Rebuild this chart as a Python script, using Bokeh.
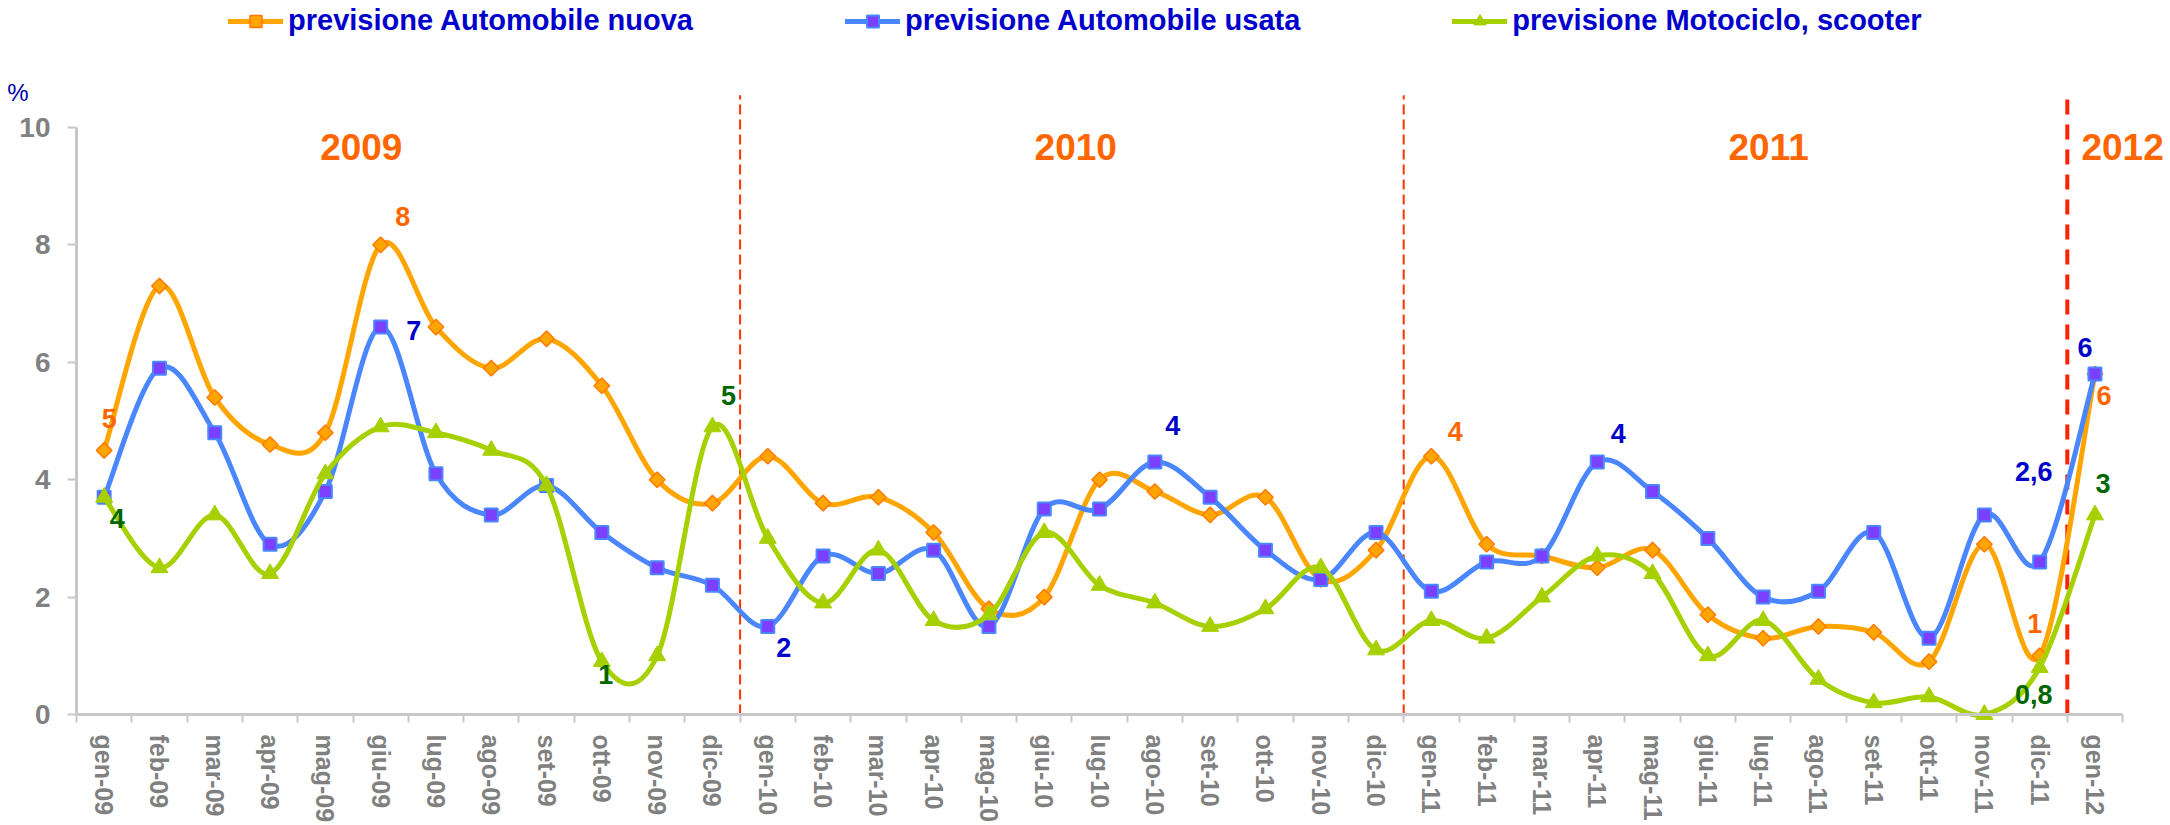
import math
from bokeh.plotting import figure
from bokeh.models import Range1d, FixedTicker, Label, Legend, LegendItem, ColumnDataSource, LinearAxis
from bokeh.core.properties import value
from bokeh.embed import file_html
from bokeh.resources import INLINE

# ---------------- data ----------------
months = ["gen-09", "feb-09", "mar-09", "apr-09", "mag-09", "giu-09", "lug-09", "ago-09", "set-09", "ott-09", "nov-09", "dic-09",
          "gen-10", "feb-10", "mar-10", "apr-10", "mag-10", "giu-10", "lug-10", "ago-10", "set-10", "ott-10", "nov-10", "dic-10",
          "gen-11", "feb-11", "mar-11", "apr-11", "mag-11", "giu-11", "lug-11", "ago-11", "set-11", "ott-11", "nov-11", "dic-11",
          "gen-12"]

auto_nuova = [4.5, 7.3, 5.4, 4.6, 4.8, 8.0, 6.6, 5.9, 6.4, 5.6, 4.0, 3.6,
              4.4, 3.6, 3.7, 3.1, 1.8, 2.0, 4.0, 3.8, 3.4, 3.7, 2.3, 2.8,
              4.4, 2.9, 2.7, 2.5, 2.8, 1.7, 1.3, 1.5, 1.4, 0.9, 2.9, 1.0,
              5.8]
auto_usata = [3.7, 5.9, 4.8, 2.9, 3.8, 6.6, 4.1, 3.4, 3.9, 3.1, 2.5, 2.2,
              1.5, 2.7, 2.4, 2.8, 1.5, 3.5, 3.5, 4.3, 3.7, 2.8, 2.3, 3.1,
              2.1, 2.6, 2.7, 4.3, 3.8, 3.0, 2.0, 2.1, 3.1, 1.3, 3.4, 2.6,
              5.8]
moto = [3.7, 2.5, 3.4, 2.4, 4.1, 4.9, 4.8, 4.5, 3.9, 0.9, 1.0, 4.9,
        3.0, 1.9, 2.8, 1.6, 1.7, 3.1, 2.2, 1.9, 1.5, 1.8, 2.5, 1.1,
        1.6, 1.3, 2.0, 2.7, 2.4, 1.0, 1.6, 0.6, 0.2, 0.3, 0.0, 0.8,
        3.4]

series_names = ["previsione Automobile nuova", "previsione Automobile usata", "previsione Motociclo, scooter"]
y_ticks = [0, 2, 4, 6, 8, 10]
years = ["2009", "2010", "2011", "2012"]
y_unit = "%"

# data labels (index into months, text)
nuova_lbl_idx = [0, 5, 24, 35, 36]
nuova_lbl_txt = ["5", "8", "4", "1", "6"]
usata_lbl_idx = [5, 12, 19, 27, 35, 36]
usata_lbl_txt = ["7", "2", "4", "4", "2,6", "6"]
moto_lbl_idx = [0, 9, 11, 35, 36]
moto_lbl_txt = ["4", "1", "5", "0,8", "3"]

# ---------------- styles / positions ----------------
nuova_lbl_off = [(5, -32), (22, -28), (24, -25), (-5, -32), (9, 21)]
usata_lbl_off = [(33, 3), (16, 21), (18, -37), (21, -29), (-6, -90), (-10, -27)]
moto_lbl_off = [(13, 21), (4, 13), (16, -31), (-6, 27), (8, -31)]
year_pos = [(5.15, 9.66), (18.07, 9.66), (30.6, 9.66), (37.0, 9.66)]
unit_pos = (-1.06, 10.6)
sep_top = 10.55

FONT = "Liberation Sans"
W, H = 2170, 825
X0_PX, Y0_PX = 76, 714           # canvas position of the data origin
PX_X, PX_Y = 55.3, 58.7          # pixels per category / per unit

n = len(months)
xs = [i + 0.5 for i in range(n)]
boundaries = [float(i) for i in range(n + 1)]
year_starts = [i for i, m in enumerate(months) if m.startswith("gen") and i > 0]

p = figure(width=W, height=H, output_backend="svg", toolbar_location=None,
           x_range=Range1d(-X0_PX / PX_X, (W - X0_PX) / PX_X),
           y_range=Range1d(-(H - Y0_PX) / PX_Y, Y0_PX / PX_Y),
           min_border=0, min_border_left=0, min_border_right=0, min_border_top=0, min_border_bottom=0,
           x_axis_type=None, y_axis_type=None)
p.title.visible = False
p.outline_line_color = None
p.background_fill_color = "white"
p.border_fill_color = "white"

xaxis = LinearAxis(fixed_location=0, ticker=FixedTicker(ticks=xs, minor_ticks=boundaries),
                   major_label_overrides={x: m for x, m in zip(xs, months)})
xaxis.bounds = (0, n)
xaxis.axis_line_color = "#C8C8C8"
xaxis.axis_line_width = 3
xaxis.major_tick_line_color = None
xaxis.major_tick_out = 0
xaxis.major_tick_in = 0
xaxis.minor_tick_line_color = "#C8C8C8"
xaxis.minor_tick_line_width = 2
xaxis.minor_tick_out = 8
xaxis.minor_tick_in = 0
xaxis.major_label_orientation = "vertical"
xaxis.major_label_standoff = 12
xaxis.major_label_text_font = FONT
xaxis.major_label_text_font_style = "bold"
xaxis.major_label_text_font_size = "25px"
xaxis.major_label_text_color = "#808080"
p.add_layout(xaxis, "below")

yaxis = LinearAxis(fixed_location=0, ticker=FixedTicker(ticks=y_ticks))
yaxis.bounds = (0, 10)
yaxis.axis_line_color = "#C8C8C8"
yaxis.axis_line_width = 3
yaxis.major_tick_line_color = "#C8C8C8"
yaxis.major_tick_line_width = 2
yaxis.major_tick_out = 9
yaxis.major_tick_in = 0
yaxis.minor_tick_line_color = None
yaxis.major_label_standoff = 17
yaxis.major_label_text_font = FONT
yaxis.major_label_text_font_style = "bold"
yaxis.major_label_text_font_size = "28px"
yaxis.major_label_text_color = "#808080"
p.add_layout(yaxis, "left")


def bezier_cols(xv, yv, t=1.0 / 6.0):
    m = len(xv)
    d = dict(x0=[], y0=[], x1=[], y1=[], cx0=[], cy0=[], cx1=[], cy1=[])
    for i in range(m - 1):
        i0 = max(i - 1, 0)
        i3 = min(i + 2, m - 1)
        d["x0"].append(xv[i]); d["y0"].append(yv[i])
        d["x1"].append(xv[i + 1]); d["y1"].append(yv[i + 1])
        d["cx0"].append(xv[i] + (xv[i + 1] - xv[i0]) * t)
        d["cy0"].append(yv[i] + (yv[i + 1] - yv[i0]) * t)
        d["cx1"].append(xv[i + 1] - (xv[i3] - xv[i]) * t)
        d["cy1"].append(yv[i + 1] - (yv[i3] - yv[i]) * t)
    return d


# year separators (the last one, before 2012, is heavier)
thin = year_starts[:-1]
thick = year_starts[-1:]
p.segment(x0=thin, y0=[0] * len(thin), x1=thin, y1=[sep_top] * len(thin),
          line_color="#FF3300", line_width=2, line_dash="10 5")
p.segment(x0=thick, y0=[0] * len(thick), x1=thick, y1=[sep_top] * len(thick),
          line_color="#FF2200", line_width=4, line_dash="15 10")

styles = [
    dict(line="#FFA500", marker="square", angle=math.pi / 4, size=11, fill="#FFA500", mline="#FF7A00", mlw=1.5),
    dict(line="#4A86FF", marker="square", angle=0.0, size=13, fill="#7B3FFF", mline="#4A86FF", mlw=2),
    dict(line="#A6D000", marker="triangle", angle=0.0, size=17, fill="#A6D000", mline="#A6D000", mlw=1),
]
all_series = [auto_nuova, auto_usata, moto]
items = []
for name, ys, st in zip(series_names, all_series, styles):
    br = p.bezier(source=ColumnDataSource(bezier_cols(xs, ys)), x0="x0", y0="y0", x1="x1", y1="y1",
                  cx0="cx0", cy0="cy0", cx1="cx1", cy1="cy1",
                  line_color=st["line"], line_width=5, line_cap="round")
    sr = p.scatter(x=xs, y=ys, marker=st["marker"], angle=st["angle"], size=st["size"],
                   fill_color=st["fill"], line_color=st["mline"], line_width=st["mlw"])
    items.append(LegendItem(label=name, renderers=[br, sr]))

# data labels
lbl_sets = [
    (auto_nuova, nuova_lbl_idx, nuova_lbl_txt, nuova_lbl_off, "#FF6600"),
    (auto_usata, usata_lbl_idx, usata_lbl_txt, usata_lbl_off, "#0000CC"),
    (moto, moto_lbl_idx, moto_lbl_txt, moto_lbl_off, "#006600"),
]
for ys, idx, txt, off, col in lbl_sets:
    src = ColumnDataSource(dict(x=[xs[i] for i in idx], y=[ys[i] for i in idx], t=txt,
                                dx=[o[0] for o in off], dy=[o[1] for o in off]))
    p.text(x="x", y="y", text="t", x_offset="dx", y_offset="dy", source=src,
           text_font=value(FONT), text_font_style="bold", text_font_size="27px",
           text_color=col, text_align="center", text_baseline="middle")

# year labels
for yr, (yx, yy) in zip(years, year_pos):
    p.add_layout(Label(x=yx, y=yy, text=yr, text_font=FONT, text_font_style="bold",
                       text_font_size="37px", text_color="#FF6600",
                       text_align="center", text_baseline="middle"))

# unit
p.add_layout(Label(x=unit_pos[0], y=unit_pos[1], text=y_unit, text_font=FONT, text_font_size="24px",
                   text_color="#0000AA", text_align="center", text_baseline="middle"))

legend = Legend(items=items, orientation="horizontal", location=(228, 788),
                label_text_font=FONT, label_text_font_style="bold", label_text_font_size="29px",
                label_text_color="#0000CC", glyph_width=55, glyph_height=30, label_standoff=5,
                spacing=152, padding=0, margin=0, border_line_color=None, background_fill_alpha=0)
p.add_layout(legend)

open("out.html", "w").write(file_html(p, INLINE))
